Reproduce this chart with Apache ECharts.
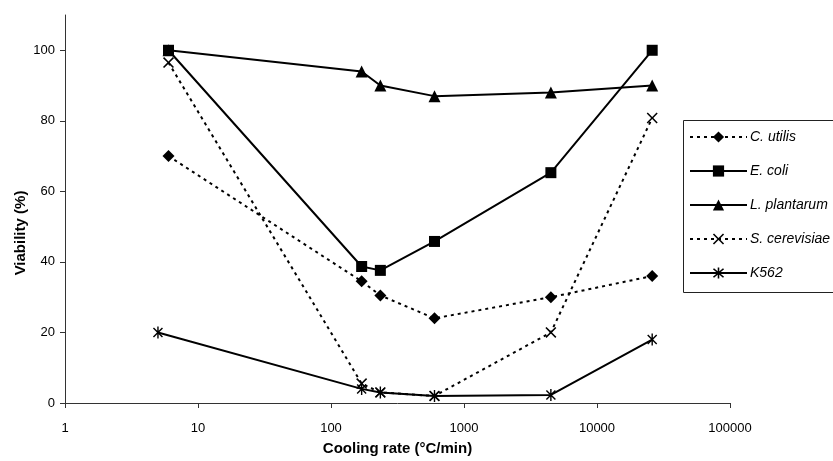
<!DOCTYPE html>
<html>
<head>
<meta charset="utf-8">
<script src="https://cdn.jsdelivr.net/npm/echarts@6/dist/echarts.min.js"></script>
<style>html,body{margin:0;padding:0;background:#fff;}#c{width:833px;height:461px;}</style>
</head>
<body>
<div id="c"></div>
<script>
// Cooling rates (°C/min)
var rates = [6, 170, 235, 600, 4500, 26000];
var ratesK562 = [5, 170, 235, 600, 4500, 26000];
// Viability (%) per organism
var cUtilis = [70, 34.5, 30.5, 24, 30, 36];
var eColi = [100, 38.7, 37.6, 45.8, 65.3, 100];
var lPlantarum = [100, 94, 90, 87, 88, 90];
var sCerevisiae = [96.5, 5.5, 3, 2, 20, 80.8];
var k562 = [20, 4, 3, 2, 2.3, 18];
var seriesNames = ['C. utilis', 'E. coli', 'L. plantarum', 'S. cerevisiae', 'K562'];
var xTickLabels = ['1', '10', '100', '1000', '10000', '100000'];
var yTicks = [0, 20, 40, 60, 80, 100];

function pairs(xs, ys) { return xs.map(function (x, i) { return [x, ys[i]]; }); }

var crossPath = 'path://M1,0L5,4L9,0L10,1L6,5L10,9L9,10L5,6L1,10L0,9L4,5L0,1Z';
var starPath = 'path://M1,0L5,4L9,0L10,1L6,5L10,9L9,10L5,6L1,10L0,9L4,5L0,1Z M4.3,-1L5.7,-1L5.7,11L4.3,11Z';
var font = '"Liberation Sans", Arial, sans-serif';
var dotted = [3, 4];

function mkSeries(name, xs, ys, symbol, size, dashed) {
  return {
    name: name, type: 'line', data: pairs(xs, ys),
    symbol: symbol, symbolSize: size, showSymbol: true,
    lineStyle: { color: '#000', width: 2, type: dashed ? dotted : 'solid' },
    itemStyle: { color: '#000', borderWidth: 0 },
    emphasis: { disabled: true }, z: 2
  };
}

var chart = echarts.init(document.getElementById('c'), null, { renderer: 'canvas' });
chart.setOption({
  animation: false,
  backgroundColor: '#fff',
  grid: { left: 65, right: 103, top: 15, bottom: 56, containLabel: false },
  legend: {
    orient: 'vertical', left: 689, top: 130, padding: 0,
    itemWidth: 57, itemHeight: 14, itemGap: 20,
    data: seriesNames,
    textStyle: { fontFamily: font, fontSize: 14, fontStyle: 'italic', color: '#000', padding: [0, 0, 0, -2] },
    selectedMode: false, z: 5
  },
  graphic: [
    { type: 'rect', z: 4, shape: { x: 683.5, y: 120.5, width: 200, height: 172 },
      style: { fill: '#fff', stroke: '#222', lineWidth: 1 } },
    { type: 'text', z: 4, x: 21, y: 233, rotation: Math.PI / 2,
      style: { text: 'Viability (%)', font: 'bold 15px ' + font, fill: '#000', align: 'center', verticalAlign: 'middle' } }
  ],
  xAxis: {
    type: 'log', logBase: 10, min: 1, max: 100000,
    axisLine: { show: true, lineStyle: { color: '#333', width: 1 } },
    axisTick: { show: true, length: 5, lineStyle: { color: '#333' } },
    splitLine: { show: false },
    axisLabel: {
      color: '#000', fontSize: 13, fontFamily: font, margin: 19,
      formatter: function (v) { var e = Math.round(Math.log(v) / Math.LN10); return xTickLabels[e] !== undefined ? xTickLabels[e] : ''; }
    },
    name: 'Cooling rate (°C/min)', nameLocation: 'middle', nameGap: 38,
    nameTextStyle: { fontWeight: 'bold', fontSize: 15, fontFamily: font, color: '#000' }
  },
  yAxis: {
    type: 'value', min: 0, max: 110, interval: 20,
    axisLine: { show: true, lineStyle: { color: '#333', width: 1 } },
    axisTick: { show: true, length: 5, lineStyle: { color: '#333' } },
    splitLine: { show: false },
    axisLabel: {
      color: '#000', fontSize: 13, fontFamily: font, margin: 10, showMaxLabel: false,
      formatter: function (v) { return yTicks.indexOf(v) >= 0 ? String(v) : ''; }
    }
  },
  series: [
    mkSeries(seriesNames[0], rates, cUtilis, 'diamond', 12, true),
    mkSeries(seriesNames[1], rates, eColi, 'rect', 11, false),
    mkSeries(seriesNames[2], rates, lPlantarum, 'triangle', 12, false),
    mkSeries(seriesNames[3], rates, sCerevisiae, crossPath, 11, true),
    mkSeries(seriesNames[4], ratesK562, k562, starPath, [10, 12], false)
  ]
});
</script>
</body>
</html>
